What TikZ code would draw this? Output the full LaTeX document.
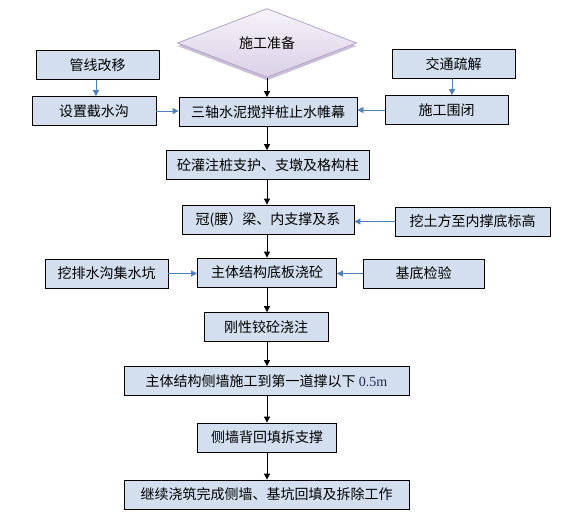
\documentclass[tikz,border=0pt]{standalone}
\usepackage{fontspec}
\setmainfont{Noto Sans CJK SC}
\newfontfamily\latinfont{Liberation Serif}
\usetikzlibrary{calc,positioning,arrows.meta,shadows,shapes.geometric}

\definecolor{boxfill}{HTML}{D3DFEE}
\definecolor{sideblue}{HTML}{4F81BD}
\definecolor{prepline}{HTML}{B3A2C7}
\definecolor{preptop}{HTML}{F6F3FA}
\definecolor{prepbottom}{HTML}{D9D0E6}
\definecolor{unitnavy}{HTML}{1F2A55}

\begin{document}
\begin{tikzpicture}[x=1pt,y=-1pt,
    work/.style={thick,rectangle,draw,fill=boxfill,minimum height=29pt,inner sep=0pt,font=\fontsize{14}{16}\selectfont},
    prepare/.style={diamond,draw=prepline,thick,top color=preptop,bottom color=prepbottom,minimum width=179pt,minimum height=55pt,inner sep=0pt,font=\fontsize{14}{16}\selectfont,
      drop shadow={shadow xshift=0pt,shadow yshift=-3pt,fill=prepline!70,opacity=1}},
    flow/.style={thick,-{Triangle[length=6pt,width=6pt]}},
    feed/.style={thick,draw=sideblue,-{Triangle[length=6pt,width=6pt]},sideblue}
    ]

  \useasboundingbox[fill=white] (0,0) rectangle (587,520);

  \node(prep) [prepare] at (267,43) {施工准备};

  \node(curtain) [work,minimum width=178pt] at (268,112) {三轴水泥搅拌桩止水帷幕};
  \node(pipes) [work,minimum width=123pt] at (97.5,65) {管线改移};
  \node(ditch) [work,minimum width=124pt] at (94,111) {设置截水沟};
  \node(traffic) [work,minimum width=123pt] at (453.5,64) {交通疏解};
  \node(enclose) [work,minimum width=123pt] at (446.5,110) {施工围闭};

  \node(piles) [work,minimum width=203pt] at (268,165) {砼灌注桩支护、支墩及格构柱};
  \node(beam) [work,minimum width=172pt] at (268,219.5) {冠(腰）梁、内支撑及系};
  \node(excav) [work,minimum width=155pt] at (472.5,221.5) {挖土方至内撑底标高};

  \node(slab) [work,minimum width=139pt] at (267,272.5) {主体结构底板浇砼};
  \node(drain) [work,minimum width=123pt] at (106.5,273.5) {挖排水沟集水坑};
  \node(check) [work,minimum width=121pt] at (423.5,273.5) {基底检验};

  \node(hinge) [work,minimum width=124pt] at (266,327) {刚性铰砼浇注};
  \node(wall) [work,minimum width=285pt] at (266.5,381) {主体结构侧墙施工到第一道撑以下 {\latinfont\color{unitnavy}0.5m}};
  \node(backfill) [work,minimum width=139pt] at (267,437.5) {侧墙背回填拆支撑};
  \node(finish) [work,minimum width=285pt] at (266.5,494.5) {继续浇筑完成侧墙、基坑回填及拆除工作};

  \draw[flow] (prep.south) -- (prep.south |- curtain.north);
  \draw[flow] (curtain.south -| prep.south) -- (prep.south |- piles.north);
  \draw[flow] (piles.south -| prep.south) -- (prep.south |- beam.north);
  \draw[flow] (beam.south -| prep.south) -- (prep.south |- slab.north);
  \draw[flow] (slab.south -| prep.south) -- (prep.south |- hinge.north);
  \draw[flow] (hinge.south -| prep.south) -- (prep.south |- wall.north);
  \draw[flow] (wall.south -| prep.south) -- (prep.south |- backfill.north);
  \draw[flow] (backfill.south -| prep.south) -- (prep.south |- finish.north);

  \draw[feed] (pipes.south -| 96,0) -- (ditch.north -| 96,0);
  \draw[feed] (traffic.south -| 452,0) -- (enclose.north -| 452,0);
  \draw[feed] (ditch.east) -- (ditch.east -| curtain.west);
  \draw[feed] (enclose.west) -- (enclose.west -| curtain.east);
  \draw[feed] (excav.west) -- (excav.west -| beam.east);
  \draw[feed] (drain.east) -- (drain.east -| slab.west);
  \draw[feed] (check.west) -- (check.west -| slab.east);

  \end{tikzpicture}
\end{document}
